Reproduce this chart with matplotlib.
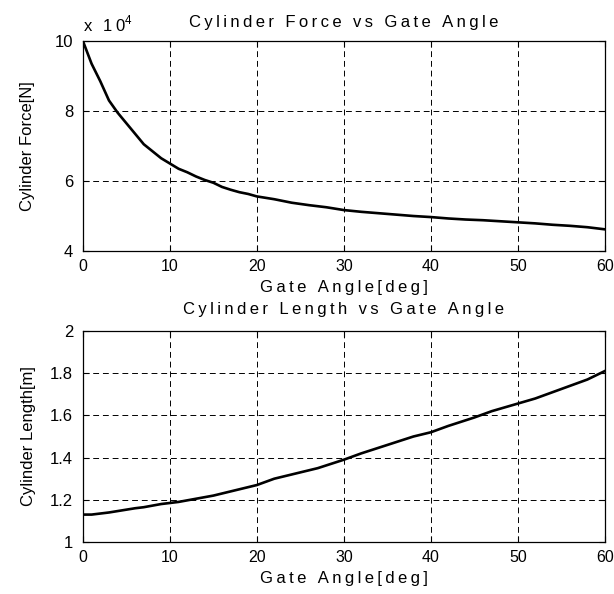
import numpy as np
import matplotlib as mpl
mpl.use('Agg')
import matplotlib.pyplot as plt

plt.rcParams['font.family'] = ['Liberation Sans', 'DejaVu Sans']
plt.rcParams['font.size'] = 12
plt.rcParams['mathtext.fontset'] = 'custom'
plt.rcParams['mathtext.rm'] = 'Liberation Sans'

# gate angle [deg] vs cylinder force [x 1e4 N]
angle_f = [0, 1, 2, 3, 4, 5, 6, 7, 8, 9, 10, 11, 12, 13, 14, 15, 16, 17, 18, 19, 20,
           22, 24, 26, 28, 30, 32, 34, 36, 38, 40, 42, 44, 46, 48, 50, 52, 54, 56, 58, 60]
force = [10.0, 9.35, 8.85, 8.3, 7.95, 7.65, 7.35, 7.05, 6.85, 6.65, 6.5, 6.35, 6.25, 6.13,
         6.03, 5.95, 5.83, 5.75, 5.68, 5.63, 5.56, 5.48, 5.38, 5.31, 5.25, 5.17, 5.12, 5.08,
         5.04, 5.0, 4.97, 4.93, 4.9, 4.88, 4.85, 4.82, 4.79, 4.75, 4.72, 4.68, 4.62]

# gate angle [deg] vs cylinder length [m]
angle_l = [0, 1, 3, 6, 7, 9, 11, 13, 15, 18, 20, 22, 25, 27, 30, 32, 35, 38, 40, 42, 45,
           47, 49.5, 52, 54, 56, 58, 60]
length = [1.13, 1.13, 1.14, 1.16, 1.165, 1.18, 1.19, 1.205, 1.22, 1.25, 1.27, 1.3, 1.33,
          1.35, 1.39, 1.42, 1.46, 1.5, 1.52, 1.55, 1.59, 1.62, 1.65, 1.68, 1.71, 1.74, 1.77, 1.81]

xticks = [0, 10, 20, 30, 40, 50, 60]
fs = 12


def spaced(s):
    # old matlab export has wide letter spacing
    return '\u2009'.join(s)


fig = plt.figure(figsize=(6.14, 5.94), dpi=100)
ax1 = fig.add_axes([0.135, 0.5774, 0.850, 0.3536])
ax2 = fig.add_axes([0.135, 0.0875, 0.850, 0.3553])

for ax in (ax1, ax2):
    ax.set_xlim(0, 60)
    ax.set_xticks(xticks)
    ax.set_xticklabels([str(t) for t in xticks])
    ax.tick_params(direction='in', length=4, width=0.8, labelsize=fs, top=True, right=True)
    ax.tick_params(axis='x', pad=6, labelsize=11.5)
    ax.tick_params(axis='y', pad=7)
    ax.grid(True, color='black', linestyle=(0, (6, 4)), linewidth=0.7)
    ax.set_xlabel(spaced('Gate Angle[deg]'), fontsize=fs, labelpad=4)
    for sp in ax.spines.values():
        sp.set_linewidth(0.9)

ax1.plot(angle_f, force, color='black', linewidth=1.9)
ax1.set_ylim(4, 10)
ax1.set_yticks([4, 6, 8, 10])
ax1.set_ylabel('Cylinder Force[N]', fontsize=fs, labelpad=14)
ax1.set_title(spaced('Cylinder Force vs Gate Angle'), fontsize=fs, pad=10)
ax1.text(0.0, 1.03, spaced('x 10') + r'$^4$', transform=ax1.transAxes, fontsize=fs, va='bottom')

ax2.plot(angle_l, length, color='black', linewidth=1.9)
ax2.set_ylim(1, 2)
ax2.set_yticks([1, 1.2, 1.4, 1.6, 1.8, 2])
ax2.set_yticklabels(['1', '1.2', '1.4', '1.6', '1.8', '2'])
ax2.set_ylabel('Cylinder Length[m]', fontsize=fs, labelpad=10)
ax2.set_title(spaced('Cylinder Length vs Gate Angle'), fontsize=fs, pad=12)

fig.savefig('out.png', dpi=100)
